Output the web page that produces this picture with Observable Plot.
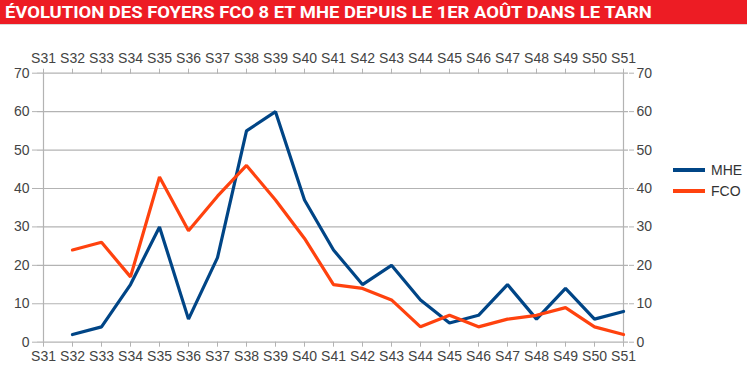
<!DOCTYPE html>
<html>
<head>
<meta charset="utf-8">
<script src="https://cdn.jsdelivr.net/npm/d3@7"></script>
<script src="https://cdn.jsdelivr.net/npm/@observablehq/plot@0.6"></script>
<style>
  html, body { margin: 0; padding: 0; background: #fff; }
  #wrap { position: relative; width: 747px; height: 385px; overflow: hidden; }
  #title { height: 24px; background: #ed1c24; color: #fff; font-family: Roboto, sans-serif; font-weight: 700;
           font-size: 17px; line-height: 24px; white-space: nowrap; overflow: hidden; border-bottom: 1px solid #d9d9d9; }
  #title span { display: inline-block; transform-origin: 0 50%; padding-left: 4.5px; }
  #legend { position: absolute; left: 673px; top: 159px; font-family: "Liberation Sans", Arial, sans-serif; font-size: 14px; color: #333; }
  .li { display: flex; align-items: center; height: 21px; }
  .sw { width: 32px; height: 4px; margin-right: 6px; }
</style>
</head>
<body>
<div id="wrap">
  <div id="title"><span id="tt">ÉVOLUTION DES FOYERS FCO 8 ET MHE DEPUIS LE 1ER AOÛT DANS LE TARN</span></div>
  <div id="chart"></div>
  <div id="legend"></div>
</div>
<script>
const weeks = ["S31","S32","S33","S34","S35","S36","S37","S38","S39","S40","S41","S42","S43","S44","S45","S46","S47","S48","S49","S50","S51"];
const dataWeeks = weeks.slice(1);
const mhe = [2, 4, 15, 30, 6, 22, 55, 60, 37, 24, 15, 20, 11, 5, 7, 15, 6, 14, 6, 8];
const fco = [24, 26, 17, 43, 29, 38, 46, 37, 27, 15, 14, 11, 4, 7, 4, 6, 7, 9, 4, 2];
const seriesNames = ["MHE", "FCO"];
const seriesColors = ["#004586", "#ff420e"];
const yTicks = [0, 10, 20, 30, 40, 50, 60, 70];

const rows = [];
dataWeeks.forEach((w, i) => {
  rows.push({week: w, value: mhe[i], series: "MHE"});
  rows.push({week: w, value: fco[i], series: "FCO"});
});

const axisColor = "#b3b3b3";
const textColor = "#444";

const chart = Plot.plot({
  width: 747,
  height: 360,
  marginTop: 47.7,
  marginBottom: 43.3,
  marginLeft: 37,
  marginRight: 119,
  style: {fontFamily: "'Liberation Sans', Arial, sans-serif", fontSize: "14px", color: textColor, background: "transparent"},
  x: {type: "point", domain: weeks, padding: 0},
  y: {domain: [0, 70]},
  color: {domain: seriesNames, range: seriesColors},
  marks: [
    Plot.gridY(yTicks, {stroke: axisColor, strokeOpacity: 1, strokeWidth: 1.2}),
    Plot.ruleX([weeks[0], weeks[weeks.length - 1]], {stroke: axisColor, strokeWidth: 1.2}),
    Plot.axisX({anchor: "top", tickSize: 5, tickPadding: 5, stroke: axisColor, fill: textColor, label: null}),
    Plot.axisX({anchor: "bottom", tickSize: 5, tickPadding: 4, stroke: axisColor, fill: textColor, label: null}),
    Plot.axisY(yTicks, {anchor: "left", tickSize: 5, tickPadding: 3, stroke: axisColor, fill: textColor, label: null}),
    Plot.axisY(yTicks, {anchor: "right", tickSize: 5, tickPadding: 3, stroke: axisColor, fill: textColor, label: null}),
    Plot.line(rows, {x: "week", y: "value", z: "series", stroke: "series", strokeWidth: 3.2, strokeLinejoin: "miter"})
  ]
});
document.getElementById("chart").appendChild(chart);

const legend = document.getElementById("legend");
seriesNames.forEach((n, i) => {
  const d = document.createElement("div");
  d.className = "li";
  d.innerHTML = `<div class="sw" style="background:${seriesColors[i]}"></div><span>${n}</span>`;
  legend.appendChild(d);
});

const tt = document.getElementById("tt");
const w = tt.getBoundingClientRect().width - 4.5;
tt.style.transform = `scaleX(${647 / w})`;
</script>
</body>
</html>
